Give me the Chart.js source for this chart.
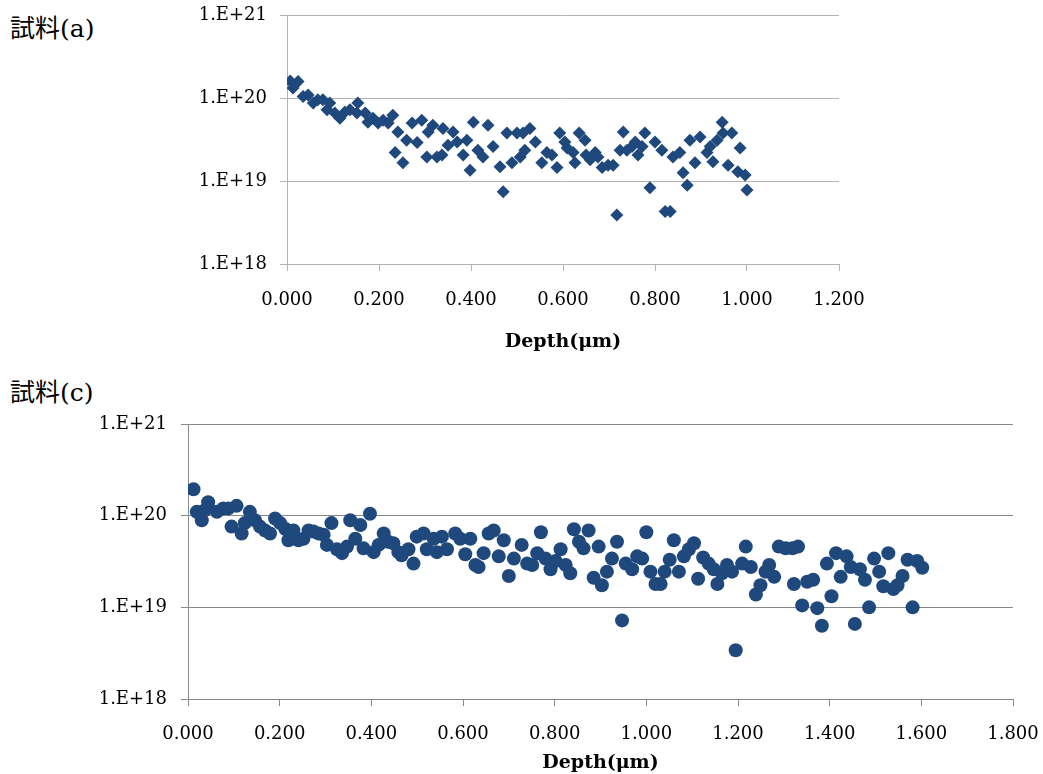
<!DOCTYPE html>
<html>
<head>
<meta charset="utf-8">
<script src="https://cdn.jsdelivr.net/npm/chart.js@4.4.1/dist/chart.umd.min.js"></script>
<style>
    body { margin: 0; background: #fff; width: 1043px; height: 774px; overflow: hidden; position: relative; }
    .sample-title { position: absolute; left: 10px; font-family: "DejaVu Serif", "Noto Sans CJK JP", serif; font-size: 25px; color: #000; }
    #chartA { position: absolute; left: 0; top: 0; }
    #chartC { position: absolute; left: 0; top: 400px; }
</style>
</head>
<body>
<div class="sample-title" style="top: 8px;">試料(a)</div>
<div class="sample-title" style="top: 372px;">試料(c)</div>
<canvas id="chartA" width="900" height="360"></canvas>
<canvas id="chartC" width="1043" height="374"></canvas>
<script>
// Sample (a) - depth (um) vs concentration
const depthA = [
    0.007, 0.013, 0.024, 0.035, 0.046, 0.057, 0.067, 0.078, 0.087, 0.093,
    0.104, 0.115, 0.126, 0.137, 0.152, 0.154, 0.170, 0.176, 0.187, 0.198,
    0.209, 0.220, 0.230, 0.235, 0.241, 0.252, 0.260, 0.272, 0.283, 0.293,
    0.304, 0.307, 0.317, 0.326, 0.337, 0.339, 0.350, 0.361, 0.370, 0.383,
    0.391, 0.398, 0.405, 0.415, 0.426, 0.437, 0.448, 0.463, 0.470, 0.478,
    0.489, 0.500, 0.507, 0.513, 0.517, 0.528, 0.540, 0.554, 0.565, 0.576,
    0.587, 0.593, 0.604, 0.609, 0.622, 0.626, 0.635, 0.648, 0.650, 0.659,
    0.670, 0.676, 0.685, 0.698, 0.709, 0.717, 0.724, 0.731, 0.739, 0.750,
    0.757, 0.763, 0.772, 0.778, 0.789, 0.800, 0.815, 0.822, 0.833, 0.839,
    0.854, 0.861, 0.870, 0.876, 0.887, 0.898, 0.913, 0.920, 0.926, 0.935,
    0.946, 0.948, 0.959, 0.967, 0.980, 0.985, 0.996, 1.000
];
const concA = [
    1.6e20, 1.32e20, 1.58e20, 1.04e20, 1.09e20, 8.7e19, 9.5e19, 9.5e19, 7.2e19, 8.7e19,
    6.6e19, 5.7e19, 6.8e19, 7.2e19, 6.6e19, 8.7e19, 6.6e19, 5.1e19, 5.7e19, 5.0e19,
    5.4e19, 5.0e19, 6.2e19, 2.2e19, 3.9e19, 1.66e19, 3.1e19, 5.0e19, 2.9e19, 5.4e19,
    1.95e19, 3.9e19, 4.7e19, 1.95e19, 2.05e19, 4.3e19, 2.7e19, 3.9e19, 2.95e19, 2.05e19,
    3.1e19, 1.35e19, 5.1e19, 2.35e19, 1.95e19, 4.7e19, 2.6e19, 1.48e19, 7.4e18, 3.8e19,
    1.66e19, 3.8e19, 1.95e19, 3.8e19, 2.35e19, 4.3e19, 2.95e19, 1.66e19, 2.2e19, 2.05e19,
    1.45e19, 3.8e19, 2.95e19, 2.5e19, 2.2e19, 1.66e19, 3.8e19, 3.1e19, 2.05e19, 1.8e19,
    2.2e19, 1.95e19, 1.45e19, 1.55e19, 1.55e19, 3.9e18, 2.35e19, 3.9e19, 2.35e19, 2.6e19,
    2.95e19, 2.05e19, 2.6e19, 3.8e19, 8.3e18, 2.95e19, 2.35e19, 4.3e18, 4.3e18, 1.95e19,
    2.2e19, 1.26e19, 8.9e18, 3.1e19, 1.66e19, 3.4e19, 2.2e19, 2.6e19, 1.7e19, 3.1e19,
    5.1e19, 3.8e19, 1.55e19, 3.8e19, 1.29e19, 2.5e19, 1.18e19, 7.8e18
];

// Sample (c)
const depthC = [
    0.012, 0.019, 0.030, 0.037, 0.044, 0.063, 0.077, 0.088, 0.095, 0.106,
    0.117, 0.124, 0.135, 0.146, 0.157, 0.168, 0.179, 0.190, 0.201, 0.212,
    0.219, 0.230, 0.241, 0.252, 0.263, 0.274, 0.285, 0.296, 0.303, 0.313,
    0.325, 0.336, 0.347, 0.354, 0.365, 0.376, 0.383, 0.397, 0.405, 0.416,
    0.427, 0.437, 0.448, 0.459, 0.466, 0.481, 0.492, 0.499, 0.514, 0.521,
    0.536, 0.543, 0.554, 0.565, 0.583, 0.594, 0.605, 0.616, 0.627, 0.634,
    0.645, 0.656, 0.667, 0.678, 0.689, 0.700, 0.711, 0.728, 0.740, 0.751,
    0.762, 0.770, 0.780, 0.791, 0.802, 0.813, 0.824, 0.834, 0.842, 0.853,
    0.863, 0.874, 0.885, 0.896, 0.903, 0.914, 0.925, 0.936, 0.947, 0.955,
    0.969, 0.980, 0.991, 1.000, 1.009, 1.020, 1.031, 1.040, 1.051, 1.060,
    1.071, 1.082, 1.093, 1.104, 1.113, 1.124, 1.136, 1.147, 1.155, 1.165,
    1.176, 1.187, 1.195, 1.209, 1.217, 1.228, 1.239, 1.249, 1.260, 1.268,
    1.279, 1.289, 1.304, 1.319, 1.322, 1.331, 1.340, 1.351, 1.364, 1.373,
    1.383, 1.394, 1.404, 1.414, 1.424, 1.437, 1.446, 1.455, 1.466, 1.477,
    1.486, 1.497, 1.508, 1.517, 1.528, 1.539, 1.548, 1.559, 1.570, 1.581,
    1.591, 1.602
];
const concC = [
    1.94e20, 1.1e20, 8.9e19, 1.15e20, 1.4e20, 1.1e20, 1.2e20, 1.2e20, 7.6e19, 1.28e20,
    6.4e19, 8.3e19, 1.1e20, 8.9e19, 7.6e19, 6.9e19, 6.4e19, 9.3e19, 8.3e19, 7.2e19,
    5.4e19, 6.9e19, 5.4e19, 5.6e19, 6.9e19, 6.7e19, 6.4e19, 6.2e19, 4.8e19, 8.3e19,
    4.3e19, 3.9e19, 4.6e19, 8.9e19, 5.6e19, 7.9e19, 4.4e19, 1.05e20, 4.0e19, 4.8e19,
    6.4e19, 5.2e19, 5.0e19, 4.0e19, 3.7e19, 4.3e19, 3.0e19, 5.9e19, 6.4e19, 4.3e19,
    5.6e19, 4.0e19, 5.9e19, 4.3e19, 6.4e19, 5.6e19, 3.8e19, 5.6e19, 2.9e19, 2.75e19,
    3.9e19, 6.4e19, 6.9e19, 3.6e19, 5.4e19, 2.2e19, 3.4e19, 4.8e19, 3.0e19, 2.9e19,
    3.9e19, 6.6e19, 3.4e19, 2.6e19, 3.2e19, 4.3e19, 2.9e19, 2.35e19, 7.1e19, 5.2e19,
    4.4e19, 6.9e19, 2.1e19, 4.6e19, 1.74e19, 2.45e19, 3.4e19, 5.2e19, 7.2e18, 3.0e19,
    2.6e19, 3.6e19, 3.4e19, 6.6e19, 2.45e19, 1.8e19, 1.8e19, 2.45e19, 3.3e19, 5.4e19,
    2.45e19, 3.6e19, 4.3e19, 5.0e19, 2.05e19, 3.5e19, 3.0e19, 2.6e19, 1.8e19, 2.35e19,
    2.9e19, 2.45e19, 3.4e18, 3.0e19, 4.6e19, 2.75e19, 1.38e19, 1.74e19, 2.45e19, 2.9e19,
    2.15e19, 4.6e19, 4.4e19, 4.4e19, 1.8e19, 4.6e19, 1.05e19, 1.9e19, 2.0e19, 9.8e18,
    6.3e18, 3.0e19, 1.32e19, 3.9e19, 2.15e19, 3.6e19, 2.75e19, 6.6e18, 2.6e19, 2.0e19,
    1.0e19, 3.4e19, 2.45e19, 1.7e19, 3.9e19, 1.58e19, 1.74e19, 2.2e19, 3.3e19, 1.0e19,
    3.2e19, 2.7e19
];

const yTicks = [1e18, 1e19, 1e20, 1e21];
const yTickLabels = ['1.E+18', '1.E+19', '1.E+20', '1.E+21'];
const xTitle = 'Depth(μm)';

const markerColor = '#1f497d';
const serif = '"DejaVu Serif", "Liberation Serif", serif';

function buildOptions(cfg) {
    return {
        responsive: false,
        animation: false,
        layout: { padding: { top: cfg.padTop, right: cfg.padRight, left: 0, bottom: 0 } },
        plugins: { legend: { display: false }, tooltip: { enabled: false } },
        scales: {
            x: {
                type: 'linear',
                min: 0,
                max: cfg.xMax,
                afterFit: function(scale) {
                    scale.height = cfg.xHeight;
                    // keep the plot edges where the layout padding puts them
                    scale.paddingLeft = 0;
                    scale.paddingRight = 0;
                },
                ticks: {
                    stepSize: 0.2,
                    padding: cfg.xTickPad,
                    color: '#000',
                    font: { family: serif, size: 18 },
                    maxRotation: 0,
                    callback: function(value) { return Number(value).toFixed(3); }
                },
                grid: { drawOnChartArea: false, drawTicks: true, tickLength: 7, color: cfg.lineColor },
                border: { color: cfg.lineColor, width: 1 },
                title: {
                    display: true,
                    text: xTitle,
                    color: '#000',
                    font: { family: serif, size: 19, weight: 'bold' },
                    padding: { top: 0, bottom: cfg.titlePadBottom }
                }
            },
            y: {
                type: 'logarithmic',
                min: yTicks[0],
                max: yTicks[yTicks.length - 1],
                afterFit: function(scale) {
                    scale.width = cfg.yWidth;
                    scale.paddingTop = 0;
                    scale.paddingBottom = 0;
                },
                afterBuildTicks: function(scale) {
                    scale.ticks = yTicks.map(v => ({ value: v }));
                },
                ticks: {
                    padding: cfg.yTickPad,
                    color: '#000',
                    font: { family: serif, size: 18 },
                    callback: function(value) {
                        const i = yTicks.indexOf(value);
                        return i >= 0 ? yTickLabels[i] : '';
                    }
                },
                grid: { color: cfg.lineColor, tickLength: 7, lineWidth: 1 },
                border: { color: cfg.lineColor, width: 1 }
            }
        }
    };
}

new Chart(document.getElementById('chartA'), {
    type: 'scatter',
    data: {
        datasets: [{
            data: depthA.map((x, i) => ({ x: x, y: concA[i] })),
            pointStyle: 'rectRot',
            pointRadius: 6.5,
            backgroundColor: markerColor,
            borderColor: markerColor,
            borderWidth: 0
        }]
    },
    options: buildOptions({
        xMax: 1.2, padTop: 15, padRight: 61, xHeight: 96, yWidth: 287,
        xTickPad: 19, yTickPad: 13, titlePadBottom: 7, lineColor: '#b3b3b3'
    })
});

new Chart(document.getElementById('chartC'), {
    type: 'scatter',
    data: {
        datasets: [{
            data: depthC.map((x, i) => ({ x: x, y: concC[i] })),
            pointStyle: 'circle',
            pointRadius: 7,
            backgroundColor: markerColor,
            borderColor: markerColor,
            borderWidth: 0
        }]
    },
    options: buildOptions({
        xMax: 1.8, padTop: 24, padRight: 30, xHeight: 75, yWidth: 188,
        xTickPad: 18, yTickPad: 14, titlePadBottom: 0, lineColor: '#888888'
    })
});
</script>
</body>
</html>
